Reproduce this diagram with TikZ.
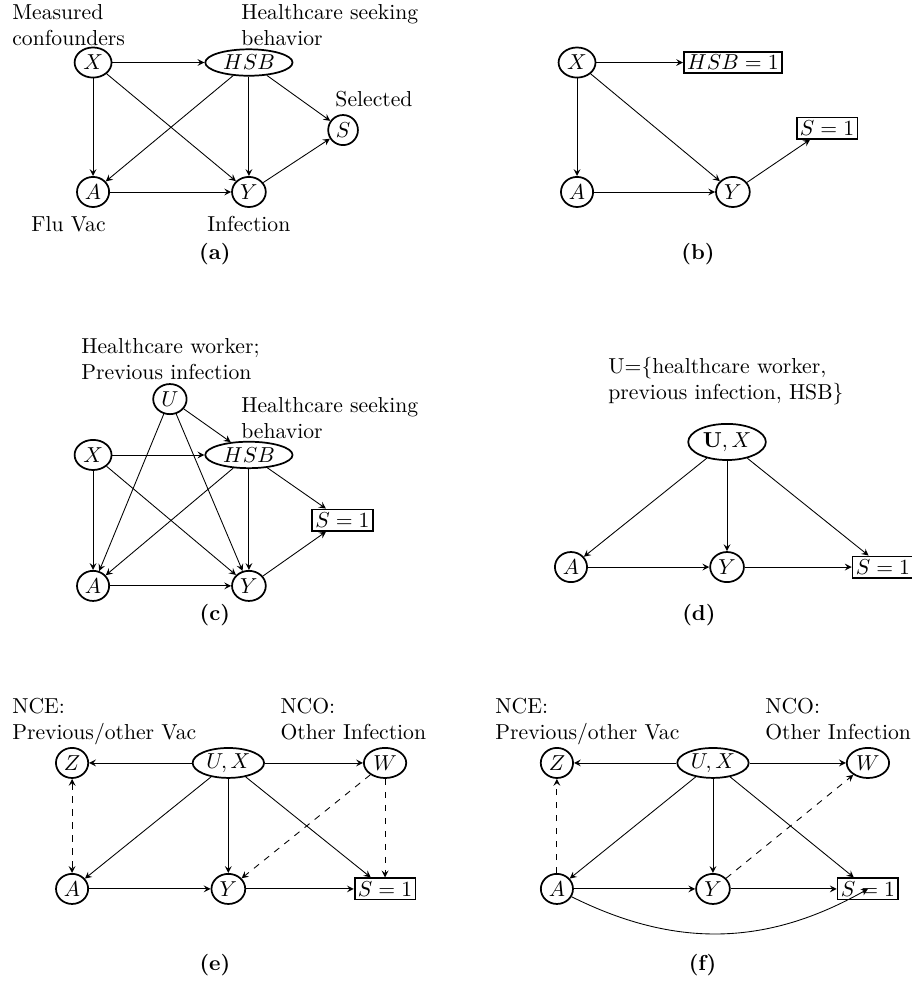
\documentclass[tikz,border=0pt]{standalone}
\usetikzlibrary{arrows,shapes.geometric}
\begin{document}
\begin{tikzpicture}[x=1pt,y=1pt,
  var/.style={draw,ellipse,thick,inner sep=1.5pt},
  fixed/.style={draw,rectangle,thick,inner sep=1.5pt},
  edge/.style={->,>=stealth},
  note/.style={align=left,inner sep=0pt,anchor=north west},
  tag/.style={inner sep=0pt,anchor=base,font=\bfseries}]
\definecolor{fillColor}{RGB}{255,255,255}
\path[use as bounding box,fill=fillColor] (0,0) rectangle (421.3,453.7);
\begin{scope}[name prefix=a-]
\node[var] (X) at ( 43.0,424.8) {$X$};
\node[var,inner xsep=2.3pt,inner ysep=0.9pt] (HSB) at (115.0,424.8) {$HSB$};
\node[var] (S) at (158.5,393.6) {$S$};
\node[var] (A) at ( 43.0,365.0) {$A$};
\node[var] (Y) at (115.0,365.0) {$Y$};
\node[note] (Xtext) at (  5.5,451.8) {Measured\\confounders};
\node[note] (HSBtext) at (111.3,451.8) {Healthcare seeking\\behavior};
\node[note,anchor=base west] (Stext) at (154.8,404.4) {Selected};
\node[note,anchor=base west] (Atext) at ( 14.3,346.6) {Flu Vac};
\node[note,anchor=base west] (Ytext) at ( 95.6,346.6) {Infection};
\node[tag] (cap) at ( 99.3,333.8) {(a)};
\draw[edge] (X) -- (HSB);
\draw[edge] (X) -- (A);
\draw[edge] (X) -- (Y);
\draw[edge] (HSB) -- (A);
\draw[edge] (HSB) -- (Y);
\draw[edge] (HSB) -- (S);
\draw[edge] (A) -- (Y);
\draw[edge] (Y) -- (S);
\end{scope}
\begin{scope}[name prefix=b-]
\node[var] (X) at (266.6,424.8) {$X$};
\node[fixed] (HSB) at (338.6,424.8) {$HSB=1$};
\node[fixed] (S) at (382.1,394.5) {$S=1$};
\node[var] (A) at (266.6,365.0) {$A$};
\node[var] (Y) at (338.6,365.0) {$Y$};
\node[tag] (cap) at (322.5,333.8) {(b)};
\draw[edge] (X) -- (HSB);
\draw[edge] (X) -- (A);
\draw[edge] (X) -- (Y);
\draw[edge] (A) -- (Y);
\draw[edge] (Y) -- (S);
\end{scope}
\begin{scope}[name prefix=c-]
\node[note] (Utext) at ( 37.4,297.4) {Healthcare worker;\\Previous infection};
\node[note] (HSBtext) at (111.3,270.4) {Healthcare seeking\\behavior};
\node[var] (U) at ( 78.5,269.3) {$U$};
\node[var] (X) at ( 43.0,243.5) {$X$};
\node[var,inner xsep=2.3pt,inner ysep=0.9pt] (HSB) at (115.0,243.5) {$HSB$};
\node[fixed] (S) at (158.2,213.4) {$S=1$};
\node[var] (A) at ( 43.0,183.0) {$A$};
\node[var] (Y) at (115.0,183.0) {$Y$};
\node[tag] (cap) at ( 99.3,167.2) {(c)};
\draw[edge] (U) -- (HSB);
\draw[edge] (U) -- (A);
\draw[edge] (U) -- (Y);
\draw[edge] (X) -- (HSB);
\draw[edge] (X) -- (A);
\draw[edge] (X) -- (Y);
\draw[edge] (HSB) -- (A);
\draw[edge] (HSB) -- (Y);
\draw[edge] (HSB) -- (S);
\draw[edge] (A) -- (Y);
\draw[edge] (Y) -- (S);
\end{scope}
\begin{scope}[name prefix=d-]
\node[note] (Utext) at (280.9,289.0) {U=\{healthcare worker,\\previous infection, HSB\}};
\node[var] (UX) at (335.9,249.5) {$\mathbf{U}, X$};
\node[var] (A) at (263.8,191.7) {$A$};
\node[var] (Y) at (335.9,191.7) {$Y$};
\node[fixed] (S) at (407.9,191.7) {$S=1$};
\node[tag] (cap) at (322.9,167.2) {(d)};
\draw[edge] (UX) -- (A);
\draw[edge] (UX) -- (Y);
\draw[edge] (UX) -- (S);
\draw[edge] (A) -- (Y);
\draw[edge] (Y) -- (S);
\end{scope}
\begin{scope}[name prefix=e-]
\node[note] (Ztext) at (  5.5,131.1) {NCE:\\Previous/other Vac};
\node[note] (Wtext) at (129.4,131.1) {NCO:\\Other Infection};
\node[var] (Z) at ( 33.3,101.2) {$Z$};
\node[var,inner ysep=0.5pt] (UX) at (105.5,101.2) {$U, X$};
\node[var] (W) at (177.9,101.2) {$W$};
\node[var] (A) at ( 33.3, 43.0) {$A$};
\node[var] (Y) at (105.5, 43.0) {$Y$};
\node[fixed] (S) at (177.9, 43.0) {$S=1$};
\node[tag] (cap) at ( 99.3,  5.1) {(e)};
\draw[edge] (UX) -- (Z);
\draw[edge] (UX) -- (W);
\draw[edge] (UX) -- (A);
\draw[edge] (UX) -- (Y);
\draw[edge] (UX) -- (S);
\draw[edge] (A) -- (Y);
\draw[edge] (Y) -- (S);
\draw[edge,<->,dashed] (Z) -- (A);
\draw[edge,dashed] (W) -- (Y);
\draw[edge,dashed] (W) -- (S);
\end{scope}
\begin{scope}[name prefix=f-]
\node[note] (Ztext) at (228.7,131.1) {NCE:\\Previous/other Vac};
\node[note] (Wtext) at (353.4,131.1) {NCO:\\Other Infection};
\node[var] (Z) at (257.3,101.2) {$Z$};
\node[var,inner ysep=0.5pt] (UX) at (329.4,101.2) {$U, X$};
\node[var] (W) at (401.0,101.2) {$W$};
\node[var] (A) at (257.3, 43.0) {$A$};
\node[var] (Y) at (329.4, 43.0) {$Y$};
\node[fixed] (S) at (401.0, 43.0) {$S=1$};
\node[tag] (cap) at (324.6,  5.1) {(f)};
\draw[edge] (UX) -- (Z);
\draw[edge] (UX) -- (W);
\draw[edge] (UX) -- (A);
\draw[edge] (UX) -- (Y);
\draw[edge] (UX) -- (S);
\draw[edge] (A) -- (Y);
\draw[edge] (Y) -- (S);
\draw[edge,dashed] (A) -- (Z);
\draw[edge,dashed] (Y) -- (W);
\draw[edge] (A) to[bend right=28] (S);
\end{scope}
\end{tikzpicture}
\end{document}
